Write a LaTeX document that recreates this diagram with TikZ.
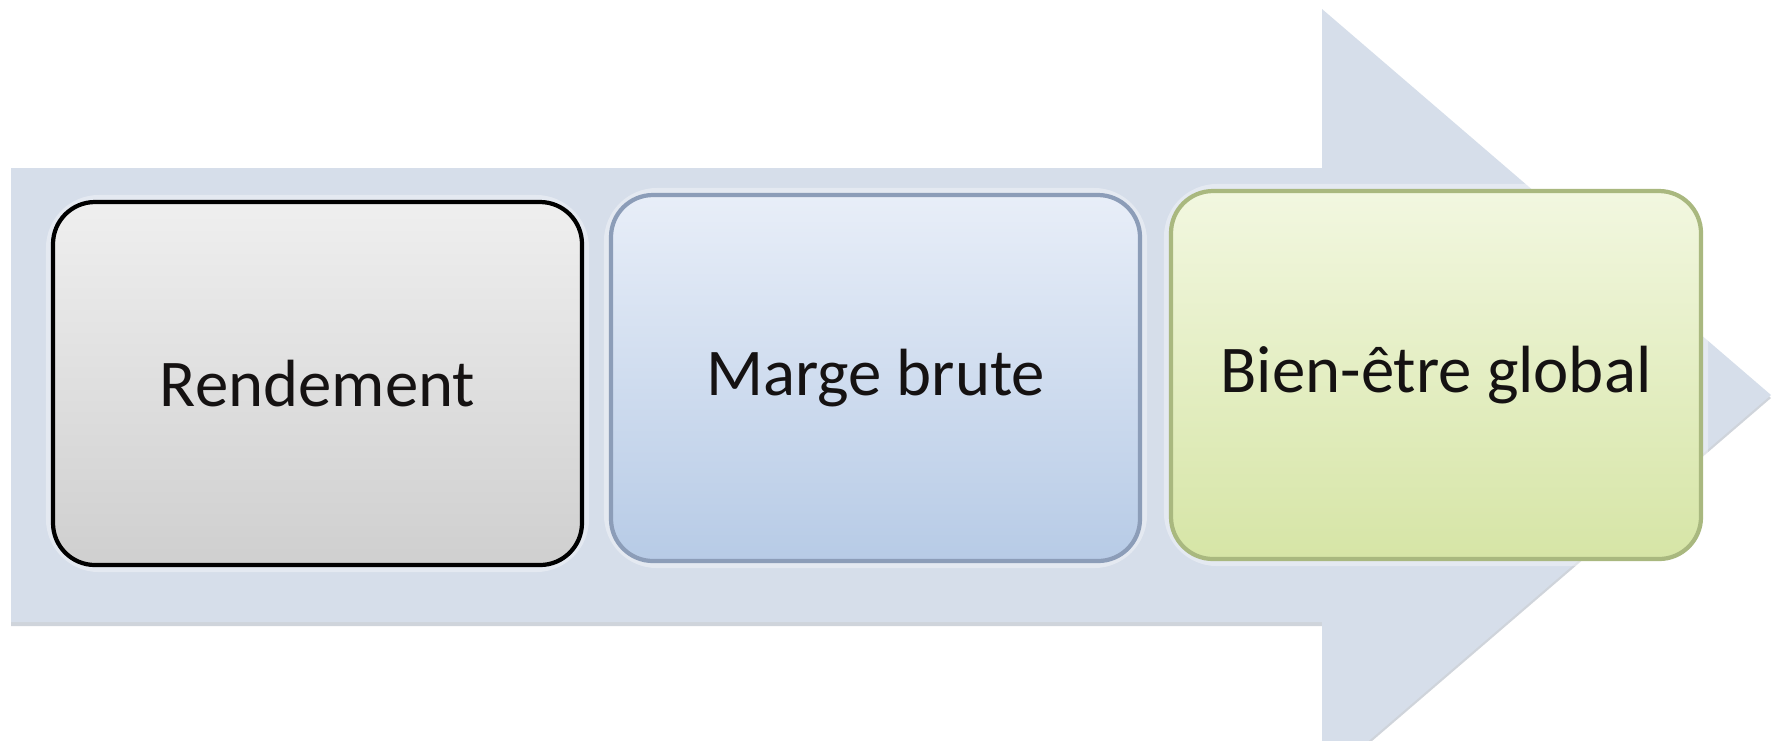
\documentclass[tikz,border=0pt]{standalone}
\usepackage{fontspec}
\setmainfont{Carlito}
\definecolor{arrowfill}{HTML}{D6DEEA}
\definecolor{arrowshade}{HTML}{BCC2CC}
\definecolor{gTop}{HTML}{EFEFEF}
\definecolor{gBot}{HTML}{CFCFCF}
\definecolor{bTop}{HTML}{E8EEF8}
\definecolor{bBot}{HTML}{B7CBE6}
\definecolor{bLine}{HTML}{8C9DB8}
\definecolor{yTop}{HTML}{F2F7E0}
\definecolor{yBot}{HTML}{D6E5A6}
\definecolor{yLine}{HTML}{A9B87F}
\definecolor{txt}{HTML}{151212}
\tikzset{
  stage/.style={rounded corners=4.2mm, minimum width=52.9mm, minimum height=36.4mm,
    inner sep=0pt, font=\fontsize{19pt}{23pt}\selectfont, text=txt, line width=1.2pt},
  glow/.style={draw=white, line width=4pt, opacity=0.35, rounded corners=4.6mm}
}
\begin{document}
\begin{tikzpicture}[x=0.1mm,y=-0.1mm]
\useasboundingbox (0,0) rectangle (1782,740);
\clip (0,0) rectangle (1782,740);
\fill[white] (0,0) rectangle (1782,740);
% arrow shadow
\fill[arrowshade, opacity=0.7] (11,171) -- (1322,171) -- (1322,12) -- (1771,398) -- (1322,784) -- (1322,626) -- (11,626) -- cycle;
% arrow
\fill[arrowfill] (11,168) -- (1322,168) -- (1322,9) -- (1771,395) -- (1322,781) -- (1322,622) -- (11,622) -- cycle;
% glows
\draw[glow] (53,202) rectangle (582,565);
\draw[glow] (611,195) rectangle (1140,561);
\draw[glow] (1171,191) rectangle (1701,559);
% boxes
\node[stage, draw=black, top color=gTop, bottom color=gBot, minimum height=36.3mm] (r) at (317.5,383.5) {Rendement};
\node[stage, draw=bLine, top color=bTop, bottom color=bBot, minimum height=36.6mm] (m) at (875.5,378) {Marge brute};
\node[stage, draw=yLine, top color=yTop, bottom color=yBot, minimum width=53mm, minimum height=36.8mm] (b) at (1436,375) {Bien-être global};
\end{tikzpicture}
\end{document}
